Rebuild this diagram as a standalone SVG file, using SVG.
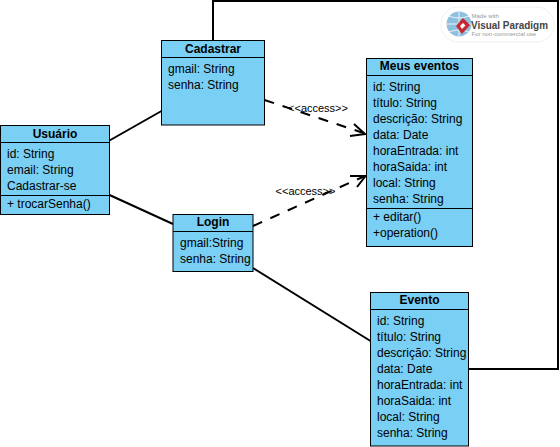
<svg xmlns="http://www.w3.org/2000/svg" width="560" height="447" viewBox="0 0 560 447">
<style>
text{font-family:"Liberation Sans",Arial,sans-serif;font-size:12px;fill:#000}
.t{font-weight:bold;text-anchor:middle}
.b{fill:#7acff5;stroke:#000;stroke-width:1}
.s{fill:none;stroke:#000;stroke-width:1}
.c{fill:none;stroke:#000;stroke-width:2}
.d{fill:none;stroke:#000;stroke-width:2;stroke-dasharray:10 9}
.a{font-size:11px;text-anchor:middle}
</style>
<rect width="560" height="447" fill="#fff"/>
<g id="connectors">
<path class="c" d="M109.500 140.500L161.500 111"/>
<path class="c" d="M109.500 195L173 224"/>
<path class="c" d="M253 268L370.500 341"/>
<path class="c" d="M213 40.500V1H558V369H468.500"/>
<path class="d" d="M264.500 100L365 133.500"/>
<path class="c" d="M354 124L365 134L350 136"/>
<path class="d" d="M253 226L365 176"/>
<path class="c" d="M350 176L365.500 176L357 187"/>
<text class="a" x="318" y="112">&lt;&lt;access&gt;&gt;</text>
<text class="a" x="305.500" y="194.500">&lt;&lt;access&gt;&gt;</text>
</g>
<g id="cadastrar">
<rect class="b" x="161.500" y="40.500" width="103" height="84.500"/>
<path class="s" d="M161.500 57.500H264.500"/>
<text class="t" x="213" y="53">Cadastrar</text>
<text x="168" y="73">gmail: String</text>
<text x="168" y="89">senha: String</text>
</g>
<g id="usuario">
<rect class="b" x="0.500" y="125.500" width="109" height="89"/>
<path class="s" d="M0.500 142.500H109.500M0.500 195.500H109.500"/>
<text class="t" x="55" y="137.500">Usuário</text>
<text x="7" y="158">id: String</text>
<text x="7" y="174">email: String</text>
<text x="7" y="190">Cadastrar-se</text>
<text x="7" y="208">+ trocarSenha()</text>
</g>
<g id="login">
<rect class="b" x="173" y="214.500" width="80" height="57"/>
<path class="s" d="M173 231.500H253"/>
<text class="t" x="213" y="226">Login</text>
<text x="180" y="247">gmail:String</text>
<text x="180" y="263">senha: String</text>
</g>
<g id="meus-eventos">
<rect class="b" x="366.500" y="58.500" width="106" height="188"/>
<path class="s" d="M366.500 75.500H472.500M366.500 208.500H472.500"/>
<text class="t" x="419.500" y="70">Meus eventos</text>
<text x="373" y="91">id: String</text>
<text x="373" y="107">título: String</text>
<text x="373" y="123">descrição: String</text>
<text x="373" y="139">data: Date</text>
<text x="373" y="155">horaEntrada: int</text>
<text x="373" y="171">horaSaida: int</text>
<text x="373" y="187">local: String</text>
<text x="373" y="203">senha: String</text>
<text x="373" y="221">+ editar()</text>
<text x="373" y="237">+operation()</text>
</g>
<g id="evento">
<rect class="b" x="370.500" y="292.500" width="98" height="153.500"/>
<path class="s" d="M370.500 309.500H468.500"/>
<text class="t" x="419.500" y="304">Evento</text>
<text x="377" y="325">id: String</text>
<text x="377" y="341">título: String</text>
<text x="377" y="357">descrição: String</text>
<text x="377" y="373">data: Date</text>
<text x="377" y="389">horaEntrada: int</text>
<text x="377" y="405">horaSaida: int</text>
<text x="377" y="421">local: String</text>
<text x="377" y="437">senha: String</text>
</g>
<g id="watermark">
<rect x="441" y="7" width="113" height="35" rx="17" fill="#fff" stroke="#f0f0f0"/>
<circle cx="459" cy="24" r="12.500" fill="#8fc0de"/>
<path d="M446.500 24H471.500M459 11.500V36.500M449 16Q459 20 469 16M449 32Q459 28 469 32" fill="none" stroke="#fff" stroke-width="0.800"/>
<path d="M463 18L470 25L462 34L456 26Z" fill="#c8282d"/>
<path d="M463 23L465.500 25.500L462 29L460 26Z" fill="#fff"/>
<text x="471.500" y="18" style="font-size:6px;fill:#999">Made with</text>
<text x="471" y="29" textLength="77" lengthAdjust="spacingAndGlyphs" style="font-size:10.500px;font-weight:bold;fill:#444">Visual Paradigm</text>
<text x="471.500" y="36" style="font-size:6px;fill:#999">For non-commercial use</text>
</g>
</svg>
